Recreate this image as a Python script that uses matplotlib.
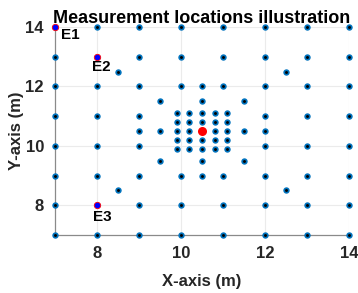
import matplotlib
matplotlib.use("Agg")
import matplotlib.pyplot as plt
import numpy as np

# Regular grid of measurement positions (metres)
GRID_COORDS = [7, 8, 9, 10, 11, 12, 13, 14]
# grid positions that are not drawn as regular points
GRID_SKIP = [(10, 10), (10, 11), (11, 10), (11, 11), (7, 14), (8, 13), (8, 8)]

# dense block around the source
BLOCK_COORDS = [9.9, 10.2, 10.5, 10.8, 11.1]

# extra positions
EXTRA_X = [9.5, 9.5, 9.5, 10.5, 10.5, 11.5, 11.5, 11.5,
           9.0, 12.0, 10.5, 10.5,
           8.5, 8.5, 12.5, 12.5]
EXTRA_Y = [9.5, 10.5, 11.5, 9.5, 11.5, 9.5, 10.5, 11.5,
           10.5, 10.5, 9.0, 12.0,
           8.5, 12.5, 8.5, 12.5]

# source position
SOURCE_X = [10.5]
SOURCE_Y = [10.5]

# evaluation positions and their labels
EVAL_X = [7, 8, 8]
EVAL_Y = [14, 13, 8]
EVAL_NAMES = ["E1", "E2", "E3"]
EVAL_TEXT_X = [7.14, 7.87, 7.9]
EVAL_TEXT_Y = [13.73, 12.65, 7.6]

TICKS = [8, 10, 12, 14]

BLUE = "#0072BD"
FONT = "Liberation Sans"


def main():
  pts_x = []
  pts_y = []
  for gx in GRID_COORDS:
    for gy in GRID_COORDS:
      if (gx, gy) in GRID_SKIP:
        continue
      pts_x.append(gx)
      pts_y.append(gy)
  for bx in BLOCK_COORDS:
    for by in BLOCK_COORDS:
      pts_x.append(bx)
      pts_y.append(by)
  pts_x += EXTRA_X
  pts_y += EXTRA_Y

  fig = plt.figure(figsize=(3.58, 2.93), dpi=100)
  ax = fig.add_axes([0.1536, 0.198, 0.8214, 0.710])

  ax.plot(pts_x, pts_y, "o", color=BLUE, markersize=4.6, markeredgewidth=0,
          clip_on=False, zorder=3)
  ax.plot(pts_x, pts_y, "o", color="black", markersize=2.1, markeredgewidth=0,
          clip_on=False, zorder=4)

  ax.plot(EVAL_X, EVAL_Y, "o", markerfacecolor="#0000FF", markeredgecolor="red",
          markersize=4.6, markeredgewidth=0.6, clip_on=False, zorder=5)
  for tx, ty, name in zip(EVAL_TEXT_X, EVAL_TEXT_Y, EVAL_NAMES):
    ax.text(tx, ty, name, ha="left", va="center", fontsize=11,
            fontweight="bold", family=FONT, color="black", zorder=6)

  ax.plot(SOURCE_X, SOURCE_Y, "o", color="red", markersize=6.5,
          markeredgewidth=0, zorder=6)

  ax.set_xlim(7, 14)
  ax.set_ylim(7, 14)
  ax.set_xticks(TICKS)
  ax.set_yticks(TICKS)
  ax.grid(True, color="#ebebeb", linewidth=0.8)
  ax.set_axisbelow(True)

  for side in ("top", "right"):
    ax.spines[side].set_visible(False)
  for side in ("left", "bottom"):
    ax.spines[side].set_color("#8a8a8a")
    ax.spines[side].set_linewidth(0.9)

  ax.tick_params(direction="in", length=0, colors="#262626", pad=8)
  for lbl in ax.get_xticklabels() + ax.get_yticklabels():
    lbl.set_fontsize(12)
    lbl.set_fontweight("bold")
    lbl.set_family(FONT)

  ax.set_xlabel("X-axis (m)", fontsize=12, fontweight="bold", family=FONT,
                color="#262626", labelpad=9)
  ax.set_ylabel("Y-axis (m)", fontsize=12, fontweight="bold", family=FONT,
                color="#262626", labelpad=1)
  ax.set_title("Measurement locations illustration", fontsize=13,
               fontweight="bold", family=FONT, color="black", pad=3)

  fig.savefig("out.png", dpi=100)


if __name__ == "__main__":
  main()
